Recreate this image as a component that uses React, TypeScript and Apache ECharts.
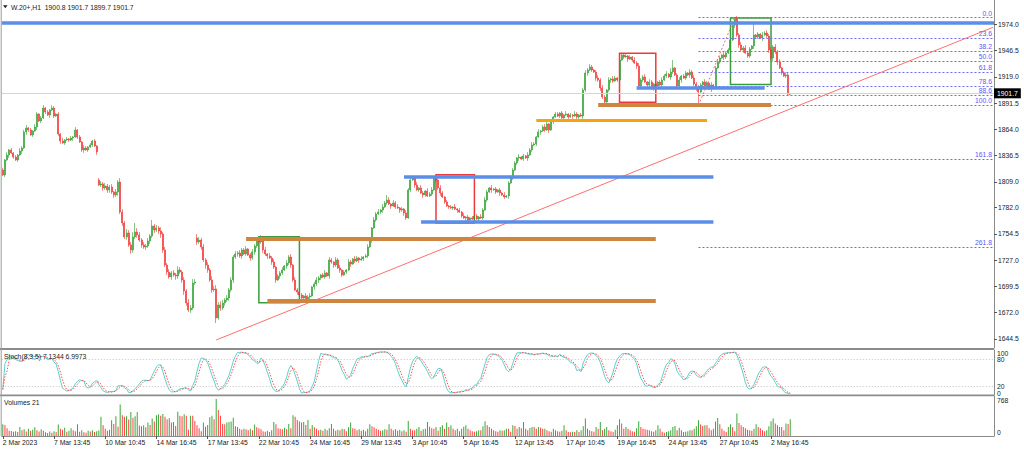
import React, { useEffect, useRef } from "react";
import * as echarts from "echarts";

// ---------- data ----------
const tickLabels = [
  "2 Mar 2023", "7 Mar 13:45", "10 Mar 10:45", "14 Mar 16:45", "17 Mar 13:45",
  "22 Mar 10:45", "24 Mar 16:45", "29 Mar 13:45", "3 Apr 10:45", "5 Apr 16:45",
  "12 Apr 13:45", "17 Apr 10:45", "19 Apr 16:45", "24 Apr 13:45", "27 Apr 10:45",
  "2 May 16:45",
];
const barsPerTick = 24;
const priceTicks = [1974.0, 1946.5, 1919.0, 1891.5, 1864.0, 1836.5, 1809.0, 1782.0, 1754.5, 1727.0, 1699.5, 1672.0, 1644.5];
const stochInnerTicks = [20, 80];
const stochOuterTicks = [0, 100];
const stochLevels = [80, 20];
const volumeTicks = [0, 768];

const closes = [
  1816.2, 1831.9, 1837.1, 1842.4, 1839.2, 1835.0, 1831.9, 1837.1, 1841.3, 1844.4,
  1861.2, 1865.4, 1863.3, 1858.1, 1862.3, 1866.4, 1880.0, 1872.7, 1875.9, 1886.3,
  1882.1, 1879.0, 1884.2, 1886.3, 1877.9, 1880.0, 1859.1, 1851.8, 1849.7, 1852.8,
  1853.9, 1852.8, 1854.9, 1856.0, 1863.3, 1856.0, 1850.7, 1842.4, 1844.4, 1842.4,
  1845.5, 1847.6, 1851.8, 1846.5, 1840.3, 1805.7, 1806.8, 1802.6, 1804.7, 1800.5,
  1803.6, 1798.4, 1795.2, 1798.4, 1808.8, 1777.4, 1765.9, 1751.3, 1755.5, 1742.9,
  1737.7, 1751.3, 1756.5, 1753.4, 1748.1, 1742.9, 1740.8, 1741.8, 1747.1, 1752.3,
  1762.8, 1758.6, 1760.7, 1757.5, 1754.4, 1737.7, 1721.9, 1714.6, 1709.4, 1713.6,
  1711.5, 1710.4, 1716.7, 1714.6, 1706.2, 1694.7, 1682.2, 1674.8, 1676.9, 1703.1,
  1704.1, 1746.0, 1748.1, 1740.8, 1727.2, 1721.9, 1716.7, 1706.2, 1695.8, 1696.8,
  1666.5, 1680.1, 1676.9, 1682.2, 1685.3, 1687.4, 1695.8, 1706.2, 1730.3, 1733.5,
  1734.5, 1731.4, 1737.7, 1733.5, 1738.7, 1732.4, 1729.3, 1735.6, 1741.8, 1748.1,
  1746.0, 1750.2, 1737.7, 1733.5, 1731.4, 1729.3, 1725.1, 1719.8, 1706.2, 1710.4,
  1713.6, 1716.7, 1720.9, 1724.0, 1730.3, 1721.9, 1706.2, 1695.8, 1693.7, 1690.5,
  1687.4, 1689.5, 1685.3, 1688.4, 1689.5, 1698.9, 1702.1, 1706.2, 1708.3, 1711.5,
  1709.4, 1713.6, 1710.4, 1727.2, 1725.1, 1721.9, 1727.2, 1718.8, 1716.7, 1711.5,
  1714.6, 1716.7, 1725.1, 1723.0, 1728.2, 1726.1, 1729.3, 1727.2, 1728.2, 1730.3,
  1731.4, 1740.8, 1748.1, 1760.7, 1769.1, 1775.3, 1777.4, 1779.5, 1782.7, 1786.9,
  1790.0, 1785.8, 1783.7, 1786.9, 1782.7, 1781.6, 1779.5, 1780.6, 1776.4, 1771.2,
  1800.5, 1811.0, 1813.0, 1805.7, 1800.5, 1802.6, 1797.3, 1795.2, 1799.4, 1794.2,
  1796.3, 1800.5, 1813.0, 1811.0, 1802.6, 1797.3, 1793.1, 1787.9, 1783.7, 1782.7,
  1781.6, 1782.7, 1780.6, 1779.5, 1777.4, 1773.2, 1771.2, 1772.2, 1769.1, 1771.2,
  1770.1, 1773.2, 1770.1, 1772.2, 1771.2, 1779.5, 1790.0, 1798.4, 1802.6, 1800.5,
  1801.5, 1798.4, 1800.5, 1797.3, 1795.2, 1793.1, 1794.2, 1807.8, 1813.0, 1821.4,
  1828.7, 1834.0, 1835.0, 1832.9, 1836.1, 1834.0, 1837.1, 1842.4, 1847.6, 1848.6,
  1856.0, 1861.2, 1862.3, 1866.4, 1863.3, 1869.6, 1863.3, 1871.7, 1876.9, 1880.0,
  1877.9, 1881.1, 1875.9, 1879.0, 1880.0, 1876.9, 1879.0, 1878.0, 1880.0, 1876.9,
  1879.0, 1878.0, 1905.2, 1923.0, 1926.1, 1929.3, 1926.1, 1924.0, 1917.7, 1915.6,
  1907.3, 1897.8, 1892.6, 1905.2, 1915.6, 1916.7, 1914.6, 1917.7, 1915.6, 1936.6,
  1941.8, 1939.7, 1940.8, 1937.6, 1939.7, 1936.6, 1933.4, 1930.3, 1909.4, 1915.6,
  1918.8, 1913.5, 1910.4, 1913.5, 1907.3, 1911.5, 1909.4, 1913.5, 1910.4, 1915.6,
  1919.8, 1921.9, 1918.8, 1924.0, 1928.2, 1920.9, 1909.4, 1915.6, 1919.8, 1917.7,
  1923.0, 1920.9, 1924.0, 1917.7, 1911.5, 1907.3, 1903.1, 1910.4, 1913.5, 1909.4,
  1912.5, 1906.2, 1910.4, 1908.3, 1928.2, 1934.5, 1938.7, 1941.8, 1939.7, 1943.9,
  1947.1, 1957.5, 1973.2, 1979.5, 1962.8, 1952.3, 1947.1, 1949.1, 1943.9, 1940.8,
  1948.1, 1951.2, 1962.8, 1960.7, 1963.8, 1959.6, 1962.8, 1964.8, 1961.7, 1947.1,
  1938.7, 1950.2, 1945.0, 1934.5, 1928.2, 1923.0, 1919.8, 1920.9, 1900.8, 1901.7,
];
// bars whose open differs from the previous close (session gaps): [bar, open]
const gapOpens: [number, number][] = [[0, 1821.4], [45, 1810.9], [91, 1750.2]];
// wick length beyond the body, one digit (index points) per bar
const upperWicks =
  "2131212132 2312132123 1213212131 2121312132 1212123232 2313243243 3524323232 3232423232 3243232434 3432323243 " +
  "4343232323 2322312323 2323132312 2313231323 2132312321 2313213231 2132132131 2321323132 2313231213 2321313213 " +
  "2312132121 2131213121 2121323213 1212131232 2131213232 1312321312 2121312132 1223232123 2321313213 2131213232 " +
  "2313213123 2314212312 2132323213 2131232132 2312323232 2131213232 3232312320";
const lowerWicks =
  "1213121213 1321213121 2131212312 1213121231 2121312323 3232423232 4323232323 2323432323 2432343232 2323243232 " +
  "3232323232 3231213232 1232313231 3213232131 2321213232 1213232132 1213121312 1213121231 2131213232 1213121321 " +
  "1213231212 1213121312 1213121213 1213121312 1231213121 2131213121 1213121312 2132312132 3231232121 1213121323 " +
  "2132131213 1213213231 2131232123 2131212132 1213232312 2131213123 2323121210";
// long wicks: [bar, high, low]
const wicks: [number, number, number][] = [
  [19, 1888.4, 1875.9], [62, 1765.9, 1751.3], [70, 1769.1, 1752.3], [100, 1696.8, 1661.2],
  [121, 1751.3, 1746.0], [180, 1795.2, 1786.9], [192, 1814.1, 1811.0], [202, 1814.1, 1800.5],
  [272, 1905.2, 1876.0], [282, 1897.8, 1891.6], [290, 1943.9, 1936.6], [314, 1936.6, 1924.0],
  [326, 1907.3, 1889.2], [343, 1980.9, 1973.2], [352, 1976.4, 1951.2], [369, 1901.7, 1899.7],
];
const volumes = [
  244, 230, 160, 110, 105, 90, 100, 85, 188, 120,
  140, 95, 150, 110, 130, 180, 120, 95, 140, 110,
  80, 60, 95, 70, 100, 85, 240, 150, 130, 170,
  90, 110, 160, 120, 100, 244, 90, 120, 80, 70,
  110, 95, 120, 85, 100, 115, 397, 223, 150, 110,
  130, 327, 250, 411, 190, 655, 432, 400, 410, 340,
  500, 380, 410, 500, 220, 200, 223, 180, 280, 230,
  362, 300, 432, 450, 420, 455, 397, 350, 370, 280,
  290, 210, 502, 420, 410, 450, 420, 130, 420, 420,
  310, 223, 160, 100, 280, 190, 230, 390, 420, 350,
  768, 537, 420, 250, 244, 280, 290, 300, 377, 200,
  188, 150, 130, 150, 140, 120, 150, 120, 240, 180,
  160, 140, 100, 90, 110, 85, 120, 293, 244, 160,
  150, 140, 170, 140, 250, 160, 432, 400, 330, 300,
  280, 290, 230, 330, 150, 230, 180, 150, 120, 130,
  110, 150, 120, 160, 250, 150, 110, 130, 120, 150,
  140, 100, 180, 280, 160, 150, 120, 140, 110, 130,
  100, 150, 244, 200, 180, 150, 130, 110, 120, 140,
  130, 244, 150, 120, 140, 110, 130, 100, 120, 90,
  310, 150, 120, 120, 150, 188, 110, 140, 150, 293,
  190, 160, 150, 188, 110, 188, 223, 150, 279, 188,
  223, 150, 118, 153, 100, 153, 190, 223, 153, 118,
  100, 90, 100, 118, 118, 200, 307, 223, 188, 150,
  118, 100, 90, 118, 110, 118, 153, 150, 90, 223,
  210, 153, 188, 160, 293, 153, 118, 165, 188, 188,
  153, 188, 170, 150, 153, 118, 100, 90, 153, 118,
  100, 90, 110, 223, 118, 84, 80, 90, 84, 118,
  84, 120, 200, 362, 153, 118, 100, 90, 188, 150,
  293, 118, 150, 188, 118, 100, 84, 130, 223, 349,
  260, 153, 188, 153, 118, 100, 90, 160, 307, 188,
  153, 140, 130, 118, 100, 90, 120, 223, 153, 90,
  70, 84, 100, 118, 188, 210, 118, 170, 118, 84,
  90, 100, 118, 118, 153, 200, 328, 240, 210, 223,
  223, 160, 118, 150, 300, 376, 244, 153, 110, 84,
  188, 244, 180, 100, 467, 270, 223, 188, 160, 130,
  120, 110, 153, 244, 188, 160, 118, 100, 118, 200,
  307, 362, 260, 223, 188, 188, 120, 260, 250, 349,
];
const stochReadout = ["7.1344", "6.9973"];

// drawn objects: [fromBar, toBar, price]
const topResistance = 1975.7;
const blueLevels: [number, number, number][] = [[188, 333, 1814.4], [196, 333, 1767.7], [297, 357, 1907.3]];
const brownLevels: [number, number, number][] = [[114, 306, 1749.9], [124, 306, 1684.0], [279, 360, 1890.2]];
const orangeLevels: [number, number, number][] = [[250, 330, 1873.1]];
// boxes: [fromBar, toBar, topPrice, bottomPrice]
const greenBoxes: [number, number, number, number][] = [[120, 139, 1751.6, 1682.5], [341, 360, 1980.6, 1910.8]];
const redBoxes: [number, number, number, number][] = [[203, 221, 1816.5, 1766.0], [289, 306, 1943.6, 1892.3]];
// trend line: [bar, price] -> [bar, price]
const trendStart: [number, number] = [100, 1643.4];
const trendEnd: [number, number] = [464, 1970.8];
// fibonacci retracement
const fibLevels = [0, 23.6, 38.2, 50.0, 61.8, 78.6, 88.6, 100.0, 161.8, 261.8];
const fibLowBar = 326;
const fibHighBar = 343;
const fibLow = 1889.2;
const fibHigh = 1980.9;
const fibEndBar = 464;

// ---------- layout / styles ----------
const CAT_COUNT = 465;
const FONT = '"Liberation Sans", Arial, sans-serif';
const FS = 6.8;
const TXT = "#1a1a1a";
const AXIS = "#8a8a8a";
const BLUE = "#5b8ee8";
const BROWN = "#cd8540";
const ORANGE = "#f5a40c";
const UP = "#2f9f2f";
const DOWN = "#f23030";

function digits(s: string) {
  return s.replace(/\s+/g, "").split("").map(Number);
}

function buildOption() {
  const cats = Array.from({ length: CAT_COUNT }, (_, i) => String(i));
  const openMap = new Map(gapOpens.map(([i, o]) => [i, o]));
  const wickMap = new Map(wicks.map(([i, h, l]) => [i, [h, l]]));
  const up = digits(upperWicks);
  const dn = digits(lowerWicks);
  const candles = closes.map((c, i) => {
    const o = openMap.has(i) ? (openMap.get(i) as number) : i > 0 ? closes[i - 1] : c;
    let h = Math.max(o, c) + (up[i] ?? 0);
    let l = Math.min(o, c) - (dn[i] ?? 0);
    const w = wickMap.get(i);
    if (w) {
      h = i === closes.length - 1 ? w[0] : Math.max(h, w[0]);
      l = i === closes.length - 1 ? w[1] : Math.min(l, w[1]);
    }
    return [o, c, l, h];
  });
  const lows = candles.map((d) => d[2]);
  const highs = candles.map((d) => d[3]);
  // Stochastic(8,3,5)
  const kPeriod = 8, slowing = 5, dPeriod = 3;
  const stochK = closes.map((_, i) => {
    let num = 0, den = 0;
    for (let j = Math.max(0, i - slowing + 1); j <= i; j++) {
      const s = Math.max(0, j - kPeriod + 1);
      const ll = Math.min(...lows.slice(s, j + 1));
      const hh = Math.max(...highs.slice(s, j + 1));
      num += closes[j] - ll;
      den += hh - ll;
    }
    return den === 0 ? 50 : (num / den) * 100;
  });
  const stochD = stochK.map((_, i) => {
    const s = Math.max(0, i - dPeriod + 1);
    const part = stochK.slice(s, i + 1);
    return part.reduce((a, b) => a + b, 0) / part.length;
  });

  const last = candles[candles.length - 1];
  const header = `W.20+,H1  ${last[0].toFixed(1)} ${last[3].toFixed(1)} ${last[2].toFixed(1)} ${last[1].toFixed(1)}`;

  const seg = (a: [number, number, number], color: string, width: number) => [
    { coord: [a[0], a[2]], lineStyle: { color, width, type: "solid" }, label: { show: false } },
    { coord: [a[1], a[2]] },
  ];

  const markLines: any[] = [];
  markLines.push({ yAxis: closes[closes.length - 1], lineStyle: { color: "#d4d4d4", width: 1, type: "solid" },
    label: { show: true, position: "end", distance: 0, formatter: closes[closes.length - 1].toFixed(1),
      backgroundColor: "#000", color: "#fff", padding: [2, 3, 1, 3], fontSize: FS, fontFamily: FONT } });
  fibLevels.forEach((lv) => {
    const p = fibHigh - ((fibHigh - fibLow) * lv) / 100;
    markLines.push([
      { coord: [fibLowBar, p], lineStyle: { color: "#6a6aff", width: 1, type: [2, 2] },
        label: { show: true, position: "insideEndTop", distance: 1, formatter: lv.toFixed(1), color: "#5a5af2", fontSize: FS, fontFamily: FONT } },
      { coord: [fibEndBar, p] },
    ]);
  });
  markLines.push([
    { coord: [fibLowBar, fibLow], lineStyle: { color: "#f07070", width: 1, type: [2, 2] }, label: { show: false } },
    { coord: [fibHighBar, fibHigh] },
  ]);
  markLines.push([
    { coord: trendStart, lineStyle: { color: "#ff6f6f", width: 1, type: "solid" }, label: { show: false } },
    { coord: trendEnd },
  ]);
  markLines.push({ yAxis: topResistance, lineStyle: { color: BLUE, width: 3.5, type: "solid" }, label: { show: false } });
  brownLevels.forEach((l) => markLines.push(seg(l, BROWN, 4)));
  orangeLevels.forEach((l) => markLines.push(seg(l, ORANGE, 3)));
  blueLevels.forEach((l) => markLines.push(seg(l, BLUE, 3.5)));

  const box = (b: [number, number, number, number], color: string) => [
    { coord: [b[0], b[2]], itemStyle: { color: "rgba(0,0,0,0)", borderColor: color, borderWidth: 1.5 } },
    { coord: [b[1], b[3]] },
  ];

  const gridBase = { left: 1.73, width: 992.3, containLabel: false, outerBoundsMode: "none" };
  const tickSel = (index: number) => index % barsPerTick === 0 && index / barsPerTick < tickLabels.length;
  const hiddenX = (gridIndex: number) => ({
    type: "category", gridIndex, data: cats, boundaryGap: true,
    axisLine: { show: false }, axisTick: { show: false }, axisLabel: { show: false }, splitLine: { show: false },
  });
  const labelStyle = { fontSize: FS, fontFamily: FONT, color: TXT };

  return {
    animation: false,
    backgroundColor: "#ffffff",
    textStyle: { fontFamily: FONT },
    grid: [
      { ...gridBase, top: 0, height: 348 },
      { ...gridBase, top: 350, height: 45 },
      { ...gridBase, top: 396, height: 40 },
    ],
    xAxis: [
      hiddenX(0),
      hiddenX(1),
      {
        type: "category", gridIndex: 2, data: cats, boundaryGap: true,
        axisLine: { show: true, lineStyle: { color: AXIS, width: 1 } },
        axisTick: { show: true, alignWithLabel: true, interval: tickSel, length: 3, lineStyle: { color: "#555" } },
        axisLabel: { show: true, interval: tickSel, align: "left", margin: 3, ...labelStyle,
          formatter: (_v: string, idx: number) => tickLabels[Math.round(idx / barsPerTick)] ?? "" },
        splitLine: { show: false },
      },
    ],
    yAxis: [
      {
        type: "value", gridIndex: 0, position: "right", min: 1635.0, max: 1999.4,
        axisLine: { show: true, lineStyle: { color: AXIS } },
        axisTick: { show: true, customValues: priceTicks, length: 3, lineStyle: { color: "#555" } },
        axisLabel: { show: true, customValues: priceTicks, margin: 4, ...labelStyle, formatter: (v: number) => v.toFixed(1) },
        splitLine: { show: false },
      },
      {
        type: "value", gridIndex: 1, position: "right", min: 0, max: 100,
        axisLine: { show: true, lineStyle: { color: AXIS } },
        axisTick: { show: false },
        axisLabel: { show: true, customValues: stochInnerTicks, margin: 3, ...labelStyle },
        splitLine: { show: false },
      },
      {
        type: "value", gridIndex: 2, position: "right", min: 0, max: 830,
        axisLine: { show: true, lineStyle: { color: AXIS } },
        axisTick: { show: false },
        axisLabel: {
          show: true, customValues: volumeTicks, margin: 3, showMinLabel: true, showMaxLabel: true,
          ...labelStyle,
          formatter: (v: number) => (v === 0 ? `{b|${v}}` : `{t|${v}}`),
          rich: {
            t: { ...labelStyle, padding: [4, 0, 0, 0] },
            b: { ...labelStyle, padding: [0, 0, 8, 0] },
          },
        },
        splitLine: { show: false },
      },
      {
        // second label set on the stochastic scale: its 0 and 100 marks
        type: "value", gridIndex: 1, position: "right", min: 0, max: 100,
        axisLine: { show: false }, axisTick: { show: false }, splitLine: { show: false },
        axisLabel: {
          show: true, customValues: stochOuterTicks, margin: 3, showMinLabel: true, showMaxLabel: true,
          ...labelStyle,
          formatter: (v: number) => (v === 100 ? `{t|${v}}` : `{b|${v}}`),
          rich: {
            t: { ...labelStyle, padding: [6, 0, 0, 0] },
            b: { ...labelStyle, padding: [0, 0, 4, 0] },
          },
        },
      },
    ],
    series: [
      {
        type: "candlestick", xAxisIndex: 0, yAxisIndex: 0, data: candles, barWidth: 1.5,
        itemStyle: { color: UP, color0: DOWN, borderColor: UP, borderColor0: DOWN, borderWidth: 0.6 },
        markArea: {
          silent: true,
          data: [...greenBoxes.map((b) => box(b, "#3a9c3a")), ...redBoxes.map((b) => box(b, "#ec3a3a"))],
        },
        markLine: { silent: true, symbol: ["none", "none"], animation: false, data: markLines },
      },
      {
        type: "line", xAxisIndex: 1, yAxisIndex: 1, data: stochK, symbol: "none", showSymbol: false,
        lineStyle: { color: "#5ccfcf", width: 1 },
        markLine: {
          silent: true, symbol: ["none", "none"], label: { show: false },
          lineStyle: { color: "#c4c4c4", width: 1, type: [1, 2] },
          data: stochLevels.map((v) => ({ yAxis: v })),
        },
      },
      {
        type: "line", xAxisIndex: 1, yAxisIndex: 1, data: stochD, symbol: "none", showSymbol: false,
        lineStyle: { color: "#ff5050", width: 1, type: [1.5, 1.5] },
      },
      {
        type: "bar", xAxisIndex: 2, yAxisIndex: 2, barWidth: 1,
        data: volumes.map((v, i) => ({ value: v, itemStyle: { color: i === 0 || v > volumes[i - 1] ? "#38a838" : "#ff4040" } })),
      },
    ],
    graphic: [
      { type: "rect", shape: { x: 0, y: 348, width: 994, height: 2 }, style: { fill: "#8c8c8c" }, silent: true, z: 50 },
      { type: "rect", shape: { x: 0, y: 394.5, width: 994, height: 1.8 }, style: { fill: "#8c8c8c" }, silent: true, z: 50 },
      { type: "line", shape: { x1: 1.2, y1: 0, x2: 1.2, y2: 436 }, style: { stroke: "#9a9a9a", lineWidth: 1 }, silent: true, z: 50 },
      { type: "polygon", shape: { points: [[3, 5.2], [7.6, 5.2], [5.3, 8.2]] }, style: { fill: "#222" }, silent: true, z: 50 },
      { type: "text", x: 11, y: 7, style: { text: header, fontSize: FS, fontFamily: FONT, fill: TXT, verticalAlign: "middle" }, silent: true, z: 50 },
      { type: "text", x: 4, y: 356, style: { text: `Stoch(8,3,5) ${stochReadout[0]} ${stochReadout[1]}`, fontSize: FS, fontFamily: FONT, fill: TXT, verticalAlign: "middle" }, silent: true, z: 50 },
      { type: "text", x: 4, y: 402, style: { text: "Volumes 21", fontSize: FS, fontFamily: FONT, fill: TXT, verticalAlign: "middle" }, silent: true, z: 50 },
    ],
  };
}

export default function App() {
  const ref = useRef<HTMLDivElement>(null);
  useEffect(() => {
    if (!ref.current) return;
    const chart = echarts.init(ref.current, undefined, { renderer: "svg" });
    chart.setOption(buildOption() as any);
    return () => chart.dispose();
  }, []);
  return (
    <div
      ref={ref}
      style={{ position: "fixed", left: 0, top: 0, width: 1024, height: 449, background: "#fff" }}
    />
  );
}
